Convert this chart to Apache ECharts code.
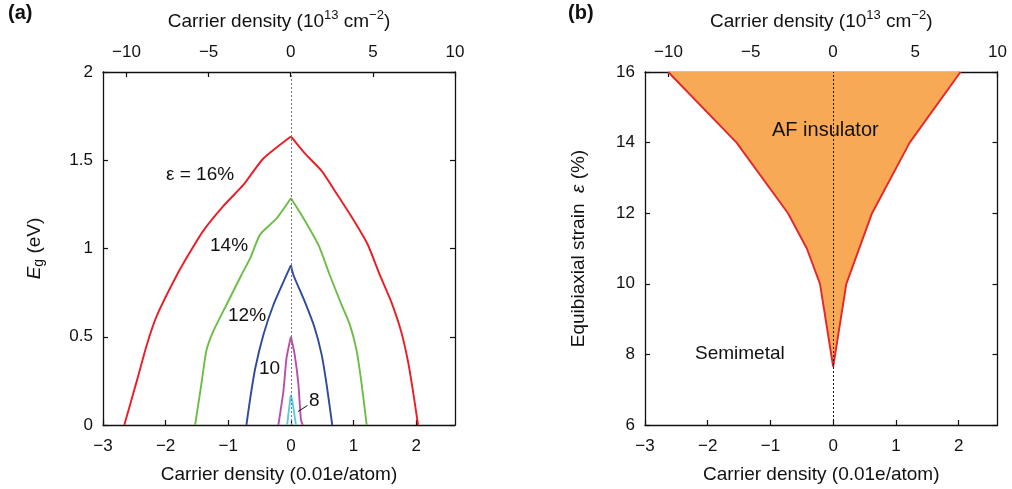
<!DOCTYPE html>
<html>
<head>
<meta charset="utf-8">
<script src="https://cdn.jsdelivr.net/npm/echarts@6/dist/echarts.min.js"></script>
<style>
html,body{margin:0;padding:0;background:#fff;}
#c{width:1012px;height:489px;}
</style>
</head>
<body>
<div id="c"></div>
<script>
// ---- Data ----
// Panel (a): band gap Eg (eV) vs carrier density (0.01 e/atom)
const eps16X = [-2.66,-2.46,-2.30,-2.14,-1.82,-1.61,-1.40,-1.08,-0.76,-0.44,0,0.22,0.49,0.75,1.02,1.23,1.42,1.60,1.76,1.87,1.95,2.03];
const eps16Y = [0,0.25,0.455,0.62,0.85,0.98,1.10,1.24,1.36,1.51,1.635,1.54,1.44,1.30,1.15,1.02,0.85,0.70,0.53,0.36,0.19,0];
const eps14X = [-1.53,-1.43,-1.35,-1.24,-1.03,-0.79,-0.65,-0.49,-0.23,0,0.17,0.44,0.62,0.81,0.94,1.05,1.13,1.21];
const eps14Y = [0,0.23,0.42,0.53,0.68,0.85,0.945,1.08,1.17,1.285,1.19,1.02,0.85,0.68,0.57,0.42,0.23,0];
const eps12X = [-0.71,-0.65,-0.57,-0.44,-0.28,-0.07,0,0.04,0.22,0.38,0.49,0.57,0.66];
const eps12Y = [0,0.15,0.32,0.51,0.68,0.85,0.905,0.85,0.70,0.55,0.40,0.23,0];
const eps10X = [-0.20,-0.12,-0.07,0,0.06,0.12,0.16,0.19];
const eps10Y = [0,0.19,0.38,0.5,0.40,0.23,0.03,0];
const eps8X = [-0.06,-0.02,0,0.03,0.08];
const eps8Y = [0,0.12,0.17,0.12,0];

// Panel (b): phase boundary, strain (%) vs carrier density (0.01 e/atom)
const leftBoundX = [-2.63,-1.54,-0.72,-0.42,-0.21,0];
const leftBoundY = [16,14,12,11,10,7.65];
const rightBoundX = [0,0.21,0.62,1.22,2.03];
const rightBoundY = [7.65,10,12,14,16];

// Tick labels
const bottomTicks = [-3,-2,-1,0,1,2];
const topTicks = [-10,-5,0,5,10];
const egTicks = [0,0.5,1,1.5,2];
const strainTicks = [6,8,10,12,14,16];

// ---- helpers ----
const zip = (xs, ys) => xs.map((x,i)=>[x, ys[i]]);
const minus = v => String(v).replace('-', '\u2212');
const FONT = 'Liberation Sans, Arial, Helvetica, sans-serif';
const BLACK = '#111';
const TICK_FS = 17, NAME_FS = 19;

const boundary = zip(leftBoundX, leftBoundY).concat(zip(rightBoundX, rightBoundY).slice(1));

function xBottom(gridIndex){
  return {
    type:'value', gridIndex, position:'bottom', min:-3, max:2.62,
    axisLine:{show:true, onZero:false, lineStyle:{color:BLACK,width:1.3}},
    axisTick:{show:true, inside:true, length:5, customValues:bottomTicks, lineStyle:{color:BLACK,width:1.2}},
    axisLabel:{customValues:bottomTicks, formatter:minus, color:BLACK, fontFamily:FONT, fontSize:TICK_FS, margin:13},
    splitLine:{show:false},
    name:'Carrier density (0.01e/atom)', nameLocation:'middle', nameGap:40,
    nameTextStyle:{color:BLACK, fontFamily:FONT, fontSize:NAME_FS}
  };
}
function xTop(gridIndex){
  return {
    type:'value', gridIndex, position:'top', min:-11.43, max:10,
    axisLine:{show:true, onZero:false, lineStyle:{color:BLACK,width:1.3}},
    axisTick:{show:true, inside:true, length:5, customValues:topTicks, lineStyle:{color:BLACK,width:1.2}},
    axisLabel:{customValues:topTicks, formatter:minus, color:BLACK, fontFamily:FONT, fontSize:TICK_FS, margin:11},
    splitLine:{show:false},
    name:'Carrier density (10{sup|13} cm{sup|\u22122})', nameLocation:'middle', nameGap:38,
    nameTextStyle:{color:BLACK, fontFamily:FONT, fontSize:NAME_FS,
      rich:{sup:{fontSize:13, verticalAlign:'top', padding:[0,0,12,0], color:BLACK, fontFamily:FONT}}}
  };
}

const chart = echarts.init(document.getElementById('c'), null, {renderer:'canvas'});

// each gap curve drawn as two gently smoothed halves meeting at the sharp peak (x = 0)
function gapSeries(xs, ys, color){
  const pk = xs.indexOf(0);
  const pts = zip(xs, ys);
  const base = {type:'line', xAxisIndex:0, yAxisIndex:0, showSymbol:false, symbol:'none',
    smooth:0.2, lineStyle:{color, width:1.9}, z:3};
  return [
    Object.assign({}, base, {data:pts.slice(0, pk+1)}),
    Object.assign({}, base, {data:pts.slice(pk)})
  ];
}

const option = {
  animation:false,
  backgroundColor:'#fff',
  grid:[
    {left:103, top:72, width:352, height:353},
    {left:645, top:72, width:352.5, height:353}
  ],
  xAxis:[ xBottom(0), xTop(0), xBottom(1), xTop(1) ],
  yAxis:[
    {type:'value', gridIndex:0, position:'left', min:0, max:2, interval:0.5,
     axisLine:{show:true, onZero:false, lineStyle:{color:BLACK,width:1.3}},
     axisTick:{show:true, inside:true, length:5, lineStyle:{color:BLACK,width:1.2}},
     axisLabel:{color:BLACK, fontFamily:FONT, fontSize:TICK_FS, margin:10, customValues:egTicks},
     splitLine:{show:false},
     name:'{it|E}{sub|g} (eV)', nameLocation:'middle', nameGap:57, nameRotate:90,
     nameTextStyle:{color:BLACK, fontFamily:FONT, fontSize:NAME_FS,
       rich:{it:{fontStyle:'italic', fontSize:NAME_FS, fontFamily:FONT, color:BLACK},
             sub:{fontSize:14, verticalAlign:'bottom', padding:[9,0,0,0], fontFamily:FONT, color:BLACK}}}},
    {type:'value', gridIndex:0, position:'right', min:0, max:2, interval:0.5,
     axisLine:{show:true, onZero:false, lineStyle:{color:BLACK,width:1.3}},
     axisTick:{show:true, inside:true, length:5, lineStyle:{color:BLACK,width:1.2}},
     axisLabel:{show:false}, splitLine:{show:false}},
    {type:'value', gridIndex:1, position:'left', min:6, max:16, interval:2,
     axisLine:{show:true, onZero:false, lineStyle:{color:BLACK,width:1.3}},
     axisTick:{show:true, inside:true, length:5, lineStyle:{color:BLACK,width:1.2}},
     axisLabel:{color:BLACK, fontFamily:FONT, fontSize:TICK_FS, margin:10, customValues:strainTicks},
     splitLine:{show:false},
     name:'Equibiaxial strain  {it|\u03b5} (%)', nameLocation:'middle', nameGap:57, nameRotate:90,
     nameTextStyle:{color:BLACK, fontFamily:FONT, fontSize:NAME_FS,
       rich:{it:{fontStyle:'italic', fontSize:NAME_FS, fontFamily:FONT, color:BLACK}}}},
    {type:'value', gridIndex:1, position:'right', min:6, max:16, interval:2,
     axisLine:{show:true, onZero:false, lineStyle:{color:BLACK,width:1.3}},
     axisTick:{show:true, inside:true, length:5, lineStyle:{color:BLACK,width:1.2}},
     axisLabel:{show:false}, splitLine:{show:false}}
  ],
  series:[
    // zero reference line, panel (a)
    {type:'line', xAxisIndex:0, yAxisIndex:0, data:[], z:1,
     markLine:{silent:true, symbol:'none', label:{show:false},
       lineStyle:{type:[2,2], color:'#777', width:1}, data:[{xAxis:0}]}},
    ...gapSeries(eps16X, eps16Y, '#ed1c24'),
    ...gapSeries(eps14X, eps14Y, '#6cbd45'),
    ...gapSeries(eps12X, eps12Y, '#2e4a9e'),
    ...gapSeries(eps10X, eps10Y, '#b84fa6'),
    ...gapSeries(eps8X, eps8Y, '#5ccbe0'),
    // filled AF-insulator region, panel (b)
    {type:'custom', xAxisIndex:2, yAxisIndex:2, data:boundary, z:1, silent:true,
     renderItem:function(params, api){
       if (params.dataIndex !== 0) return null;
       const pts = boundary.map(p => api.coord(p));
       return {type:'polygon', shape:{points:pts}, style:{fill:'#f7a955', stroke:null}};
     }},
    // zero reference line, panel (b)
    {type:'line', xAxisIndex:2, yAxisIndex:2, data:[], z:2,
     markLine:{silent:true, symbol:'none', label:{show:false},
       lineStyle:{type:[2,2], color:'#111', width:1}, data:[{xAxis:0}]}},
    {type:'line', xAxisIndex:2, yAxisIndex:2, data:boundary, showSymbol:false, symbol:'none',
     lineStyle:{color:'#e8262a', width:1.9}, z:3}
  ],
  graphic:[
    {type:'text', z:100, left:8, top:3, style:{text:'(a)', font:'bold 20px '+FONT, fill:BLACK}},
    {type:'text', z:100, left:568, top:3, style:{text:'(b)', font:'bold 20px '+FONT, fill:BLACK}},
    {type:'text', z:100, left:166, top:165, style:{text:'\u03b5 = 16%', font:'19px '+FONT, fill:BLACK}},
    {type:'text', z:100, left:210, top:236, style:{text:'14%', font:'19px '+FONT, fill:BLACK}},
    {type:'text', z:100, left:228, top:306, style:{text:'12%', font:'19px '+FONT, fill:BLACK}},
    {type:'text', z:100, left:259, top:359, style:{text:'10', font:'19px '+FONT, fill:BLACK}},
    {type:'text', z:100, left:309, top:391, style:{text:'8', font:'19px '+FONT, fill:BLACK}},
    {type:'line', z:100, shape:{x1:298, y1:411.5, x2:307.5, y2:405.5}, style:{stroke:BLACK, lineWidth:1}},
    {type:'text', z:100, left:772, top:120, style:{text:'AF insulator', font:'20px '+FONT, fill:BLACK}},
    {type:'text', z:100, left:695, top:344, style:{text:'Semimetal', font:'19px '+FONT, fill:BLACK}}
  ]
};
chart.setOption(option);
</script>
</body>
</html>
